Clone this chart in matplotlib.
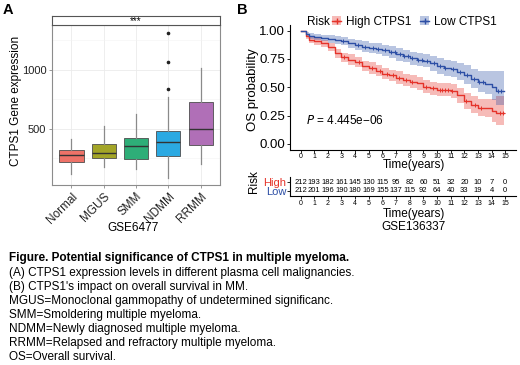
import numpy as np
import matplotlib.pyplot as plt
from matplotlib.lines import Line2D
from matplotlib.patches import Patch

plt.rcParams['font.family'] = ['Liberation Sans', 'DejaVu Sans']

# Panel A: CTPS1 expression per group (GSE6477), box stats
groups = ['Normal', 'MGUS', 'SMM', 'NDMM', 'RRMM']
box_q1 = [222, 255, 243, 271, 365]
box_med = [277, 300, 355, 387, 499]
box_q3 = [325, 371, 425, 483, 729]
whisk_lo = [119, 181, 160, 82, 203]
whisk_hi = [418, 526, 627, 774, 1014]
outliers = [[], [], [], [836, 1070, 1316], []]
box_colors = ['#EE7268', '#A3A527', '#2EAE78', '#2BA9E2', '#B06FB7']

# Panel B: Kaplan-Meier curves (GSE136337)
high_t = [0, 0.4, 0.6, 1.0, 1.5, 2.0, 2.5, 3.0, 3.5, 4.0, 4.5, 5.0, 5.5, 6.0, 6.5, 7.0,
          7.5, 8.0, 8.5, 9.0, 9.5, 10.0, 10.5, 11.0, 11.5, 12.0, 12.5, 13.0, 13.5, 14.0, 14.3, 14.9]
high_s = [1.0, 0.95, 0.92, 0.905, 0.89, 0.855, 0.80, 0.765, 0.745, 0.72, 0.69, 0.67, 0.645, 0.62,
          0.605, 0.585, 0.565, 0.55, 0.535, 0.505, 0.49, 0.48, 0.48, 0.465, 0.43, 0.38, 0.345,
          0.32, 0.315, 0.29, 0.27, 0.27]
high_lo = [1.0, 0.93, 0.895, 0.875, 0.86, 0.82, 0.76, 0.725, 0.70, 0.675, 0.645, 0.62, 0.595, 0.57,
           0.555, 0.53, 0.51, 0.495, 0.48, 0.45, 0.43, 0.42, 0.42, 0.405, 0.365, 0.31, 0.275,
           0.245, 0.235, 0.19, 0.17, 0.17]
high_hi = [1.0, 0.97, 0.945, 0.935, 0.92, 0.89, 0.84, 0.805, 0.79, 0.765, 0.735, 0.72, 0.695, 0.67,
           0.655, 0.64, 0.62, 0.605, 0.59, 0.56, 0.55, 0.54, 0.54, 0.525, 0.495, 0.45, 0.42,
           0.40, 0.40, 0.40, 0.42, 0.42]
low_t = high_t
low_s = [1.0, 0.97, 0.955, 0.945, 0.935, 0.928, 0.92, 0.91, 0.89, 0.87, 0.86, 0.85, 0.84, 0.825,
         0.81, 0.79, 0.775, 0.755, 0.745, 0.735, 0.71, 0.685, 0.67, 0.66, 0.635, 0.61, 0.575,
         0.545, 0.53, 0.50, 0.47, 0.47]
low_lo = [1.0, 0.95, 0.93, 0.915, 0.905, 0.895, 0.885, 0.87, 0.85, 0.83, 0.815, 0.805, 0.79, 0.775,
          0.755, 0.735, 0.72, 0.70, 0.685, 0.675, 0.645, 0.62, 0.60, 0.59, 0.56, 0.53, 0.49,
          0.455, 0.44, 0.39, 0.34, 0.34]
low_hi = [1.0, 0.99, 0.98, 0.97, 0.965, 0.96, 0.955, 0.945, 0.93, 0.915, 0.905, 0.895, 0.89, 0.875,
          0.865, 0.845, 0.83, 0.815, 0.805, 0.795, 0.775, 0.755, 0.74, 0.735, 0.715, 0.695, 0.665,
          0.64, 0.64, 0.64, 0.64, 0.64]
high_cens = [3.2, 4.3, 5.2, 5.8, 6.3, 6.8, 7.2, 7.7, 8.2, 9.2, 9.7, 10.2, 10.4, 10.6, 10.8,
             11.1, 12.1, 12.8, 13.2, 14.6, 14.8]
low_cens = [3.1, 4.2, 4.7, 5.3, 5.7, 6.2, 6.6, 6.9, 7.3, 7.6, 7.9, 8.2, 8.6, 8.9, 9.3, 9.8,
            10.2, 10.6, 11.2, 11.7, 12.2, 12.7, 13.1, 13.4, 14.5, 14.7]

risk_times = list(range(16))
risk_high = [212, 193, 182, 161, 145, 130, 115, 95, 82, 60, 51, 32, 20, 10, 7, 0]
risk_low = [212, 201, 196, 190, 180, 169, 155, 137, 115, 92, 64, 40, 33, 19, 4, 0]

caption_title = 'Figure. Potential significance of CTPS1 in multiple myeloma.'
caption_lines = ['(A) CTPS1 expression levels in different plasma cell malignancies.',
                 "(B) CTPS1's impact on overall survival in MM.",
                 'MGUS=Monoclonal gammopathy of undetermined significanc.',
                 'SMM=Smoldering multiple myeloma.',
                 'NDMM=Newly diagnosed multiple myeloma.',
                 'RRMM=Relapsed and refractory multiple myeloma.',
                 'OS=Overall survival.']

W, H = 520, 365
fig = plt.figure(figsize=(W / 100, H / 100), dpi=100)


def box(l, t, r, b):
    # pixel box -> figure fraction
    return [l / W, 1 - b / H, (r - l) / W, (b - t) / H]


# ---------------- panel A ----------------
ax_a = fig.add_axes(box(52, 25, 220, 185))
stats = []
for i, g in enumerate(groups):
    stats.append({'label': g, 'q1': box_q1[i], 'med': box_med[i], 'q3': box_q3[i],
                  'whislo': whisk_lo[i], 'whishi': whisk_hi[i], 'fliers': outliers[i]})
bp = ax_a.bxp(stats, positions=range(1, 6), widths=0.75, patch_artist=True, showcaps=False,
              boxprops=dict(edgecolor='#4d4d4d', linewidth=0.6),
              whiskerprops=dict(color='#8a8a8a', linewidth=0.9),
              medianprops=dict(color='#333333', linewidth=1.0),
              flierprops=dict(marker='o', markersize=1.6, markerfacecolor='#222222',
                              markeredgecolor='#222222'))
for patch, c in zip(bp['boxes'], box_colors):
    patch.set_facecolor(c)
ax_a.set_xlim(0.4, 5.6)
ax_a.set_ylim(25, 1381)
ax_a.set_yticks([500, 1000])
ax_a.set_yticks([250, 750, 1250], minor=True)
ax_a.set_xticks(range(1, 6))
ax_a.set_xticklabels(groups, rotation=45, ha='right', va='top', rotation_mode='anchor',
                     fontsize=8.5, color='#222222')
ax_a.tick_params(axis='y', labelsize=8, labelcolor='#222222', length=2.5, width=0.6,
                 color='#888888', pad=1.5)
ax_a.tick_params(axis='x', length=2.5, width=0.6, color='#888888', pad=1.5)
ax_a.tick_params(axis='y', which='minor', length=0)
ax_a.grid(which='major', color='#ebebeb', linewidth=0.6)
ax_a.grid(which='minor', color='#f3f3f3', linewidth=0.4)
ax_a.set_axisbelow(True)
for sp in ax_a.spines.values():
    sp.set_color('#8c8c8c')
    sp.set_linewidth(0.8)
fig.text(16 / W, 1 - 101 / H, 'CTPS1 Gene expression', rotation=90, ha='center', va='center',
         fontsize=8.5)

strip = fig.add_axes(box(52, 16, 220, 25))
strip.set_xticks([])
strip.set_yticks([])
for sp in strip.spines.values():
    sp.set_color('#555555')
    sp.set_linewidth(0.8)
strip.text(0.5, 0.4, '***', ha='center', va='center', fontsize=7, transform=strip.transAxes)

fig.text(133 / W, 1 - 228 / H, 'GSE6477', ha='center', va='center', fontsize=8.5)
fig.text(3 / W, 1 - 10 / H, 'A', ha='left', va='center', fontsize=10.5, fontweight='bold')

# ---------------- panel B ----------------
red, blue = '#E5332A', '#2D4FA5'
ax_b = fig.add_axes(box(290.3, 25, 515.5, 149.5))
for t, s, lo, hi, cens, c in [(high_t, high_s, high_lo, high_hi, high_cens, red),
                              (low_t, low_s, low_lo, low_hi, low_cens, blue)]:
    ax_b.fill_between(t, lo, hi, step='post', color=c, alpha=0.33, linewidth=0)
    ax_b.step(t, s, where='post', color=c, linewidth=1.0)
    idx = np.searchsorted(t, cens, side='right') - 1
    ax_b.plot(cens, np.array(s)[idx], linestyle='none', marker='+', markersize=3,
              markeredgewidth=0.7, color=c)
ax_b.set_xlim(-0.75, 15.75)
ax_b.set_ylim(-0.05, 1.05)
ax_b.set_xticks(risk_times)
ax_b.set_yticks([0, 0.25, 0.5, 0.75, 1.0])
ax_b.set_yticklabels(['0.00', '0.25', '0.50', '0.75', '1.00'])
ax_b.tick_params(axis='y', labelsize=9.5, length=2.5, width=0.6, pad=1.2)
ax_b.tick_params(axis='x', labelsize=5, length=2, width=0.6, pad=0.8)
for k in ['top', 'right']:
    ax_b.spines[k].set_visible(False)
for k in ['left', 'bottom']:
    ax_b.spines[k].set_linewidth(0.8)
fig.text(253 / W, 1 - 90 / H, 'OS probability', rotation=90, ha='center', va='center',
         fontsize=9.5)
ax_b.text(0.37, 0.205, r'$\it{P}$ = 4.445e−06', ha='left', va='center', fontsize=8.5)
fig.text(414 / W, 1 - 165 / H, 'Time(years)', ha='center', va='center', fontsize=8.5)

handles = [(Patch(color=red, alpha=0.33, linewidth=0),
            Line2D([], [], color=red, marker='+', markersize=4, linewidth=1.0)),
           (Patch(color=blue, alpha=0.33, linewidth=0),
            Line2D([], [], color=blue, marker='+', markersize=4, linewidth=1.0))]
ax_b.legend(handles, ['High CTPS1', 'Low CTPS1'], ncol=2, frameon=False, fontsize=8.5,
            loc='center left', bbox_to_anchor=(332 / W, 1 - 22 / H),
            bbox_transform=fig.transFigure, handlelength=0.8, handleheight=0.8,
            handletextpad=0.4, columnspacing=0.7, borderpad=0, borderaxespad=0)
fig.text(307 / W, 1 - 22 / H, 'Risk', ha='left', va='center', fontsize=8.5)
fig.text(237 / W, 1 - 10 / H, 'B', ha='left', va='center', fontsize=10.5, fontweight='bold')

# risk table
ax_t = fig.add_axes(box(290.3, 176.7, 515.5, 195.7))
ax_t.set_xlim(-0.75, 15.75)
ax_t.set_ylim(-0.6, 1.66)
for i, tk in enumerate(risk_times):
    ax_t.text(tk, 1, str(risk_high[i]), ha='center', va='center', fontsize=5.5)
    ax_t.text(tk, 0, str(risk_low[i]), ha='center', va='center', fontsize=5.5)
ax_t.set_xticks(risk_times)
ax_t.set_yticks([0, 1])
ax_t.set_yticklabels(['Low', 'High'])
for lab, c in zip(ax_t.get_yticklabels(), [blue, red]):
    lab.set_color(c)
ax_t.tick_params(axis='y', labelsize=8, length=2, width=0.6, pad=0.8)
ax_t.tick_params(axis='x', labelsize=5, length=2, width=0.6, pad=0.8)
for k in ['top', 'right']:
    ax_t.spines[k].set_visible(False)
for k in ['left', 'bottom']:
    ax_t.spines[k].set_linewidth(0.8)
fig.text(254 / W, 1 - 182 / H, 'Risk', rotation=90, ha='center', va='center', fontsize=8.5)
fig.text(414 / W, 1 - 214.5 / H, 'Time(years)', ha='center', va='center', fontsize=8.5)
fig.text(414 / W, 1 - 227 / H, 'GSE136337', ha='center', va='center', fontsize=8.5)

# caption
fig.text(9 / W, 1 - 257.5 / H, caption_title, ha='left', va='center', fontsize=8.5,
         fontweight='bold')
for i, line in enumerate(caption_lines):
    fig.text(9 / W, 1 - (273.3 + 13.9 * i) / H, line, ha='left', va='center', fontsize=8.5)

fig.savefig('out.png', dpi=100)
